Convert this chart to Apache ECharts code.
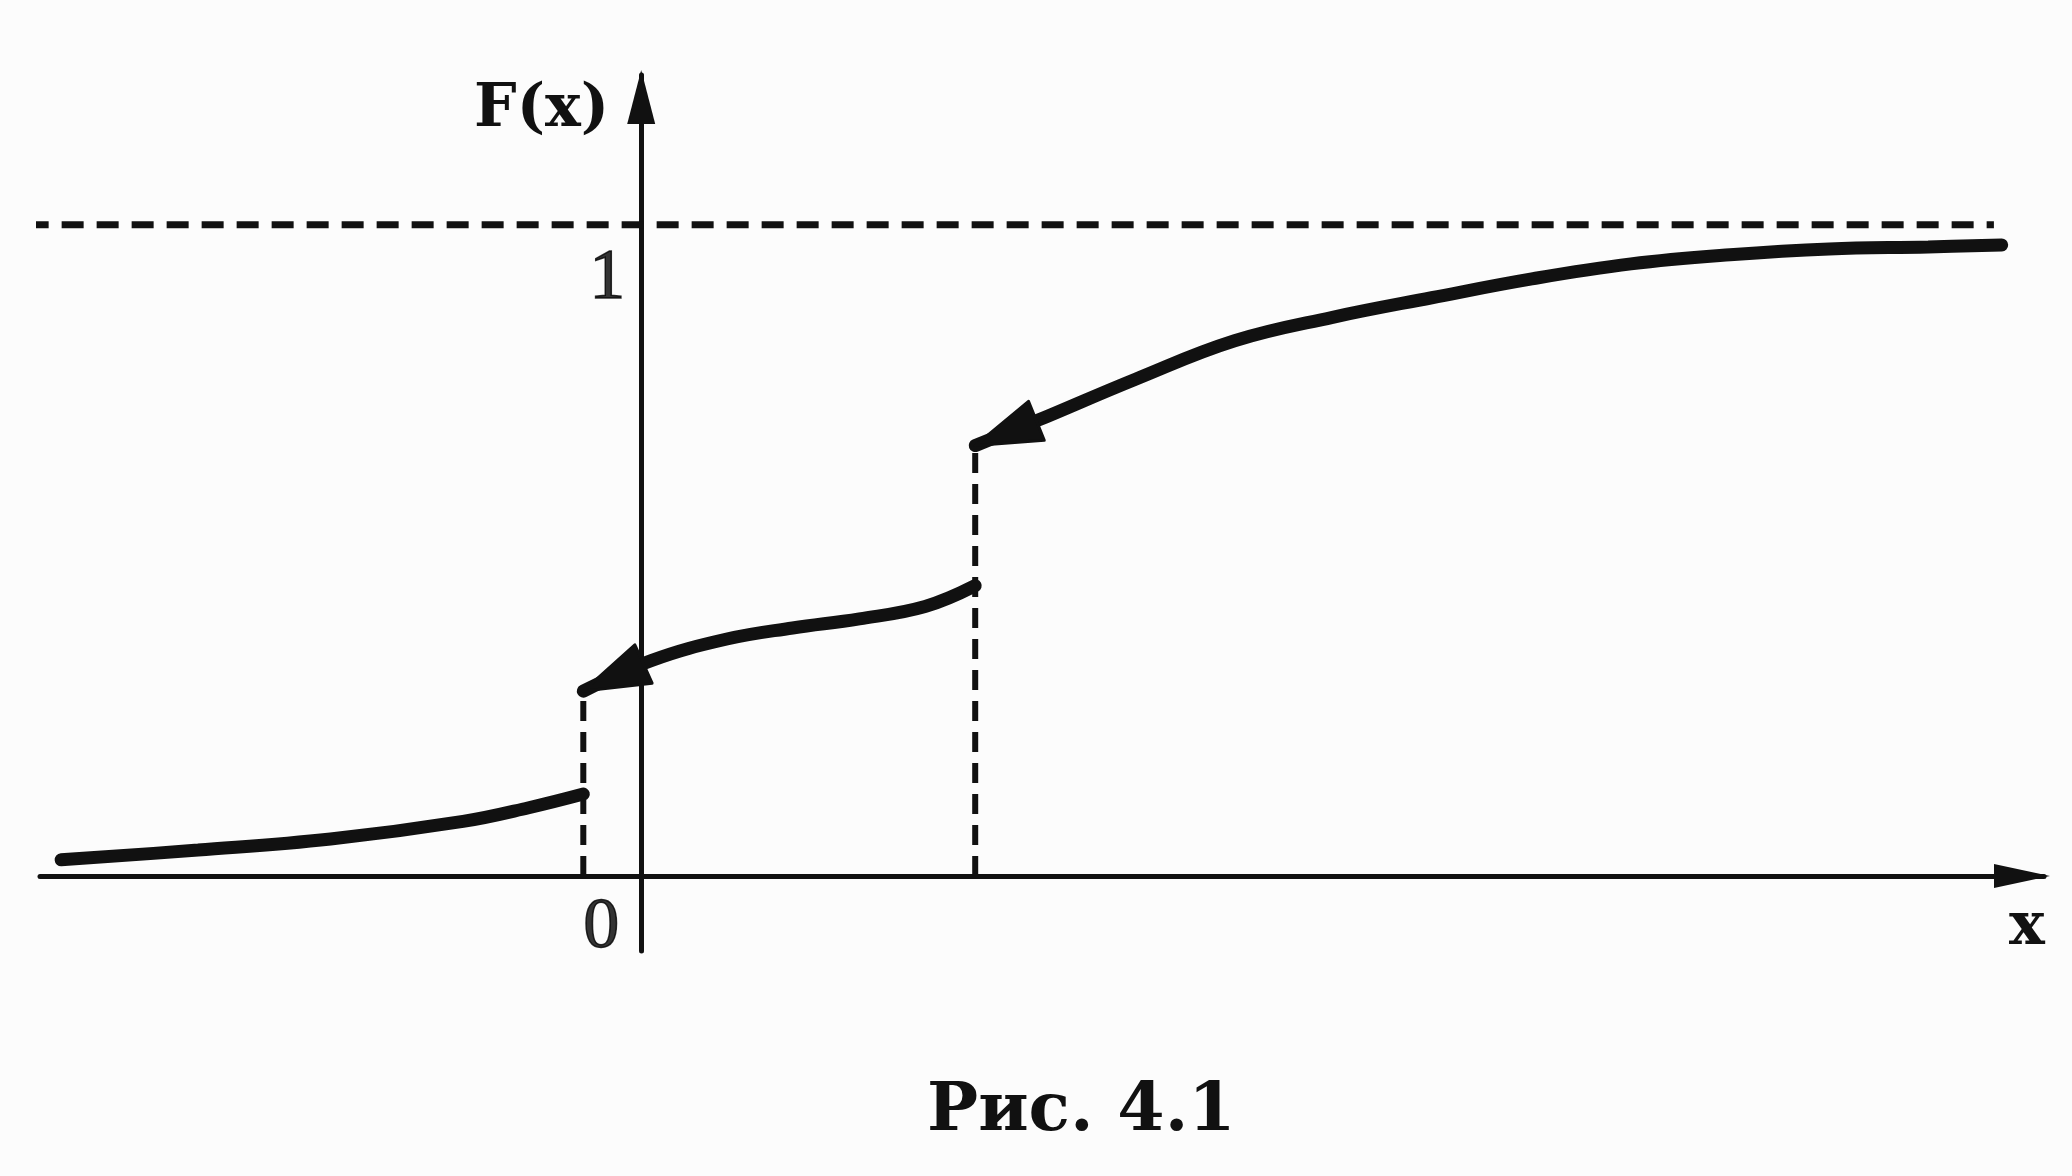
<!DOCTYPE html>
<html>
<head>
<meta charset="utf-8">
<script src="https://cdn.jsdelivr.net/npm/echarts@6/dist/echarts.min.js"></script>
<style>
  html, body { margin: 0; padding: 0; background: #fcfcfc; }
  #fig { width: 2072px; height: 1176px; }
</style>
</head>
<body>
<div id="fig"></div>
<script>
// точки разрыва функции распределения
var jumpX = [-0.52, 3.0];

// участок левее первого скачка
var seg1X = [-5.21, -3.98, -2.79, -1.60, -1.01, -0.52];
var seg1F = [0.025, 0.040, 0.057, 0.084, 0.105, 0.126];

// участок между скачками
var seg2X = [-0.52, 0.09, 0.77, 1.36, 1.96, 2.55, 3.0];
var seg2F = [0.284, 0.331, 0.364, 0.381, 0.395, 0.414, 0.446];

// участок правее второго скачка
var seg3X = [3.0, 3.55, 4.44, 5.33, 6.21, 7.10, 8.0, 8.89, 9.78, 10.67, 11.56, 12.22];
var seg3F = [0.661, 0.699, 0.763, 0.822, 0.858, 0.888, 0.917, 0.940, 0.954, 0.963, 0.966, 0.969];

// асимптота F = 1
var asymX = [-5.52, 12.15];
var asymF = [1, 1];

// подписи на осях
var xTicks = [0];
var yTicks = [1];

var ink = '#111111';

function pairs(xs, ys) {
    return xs.map(function (x, i) { return [x, ys[i]]; });
}

// стрелки в начале участков 2 и 3: остриё и направление по первым двум точкам
var arrows = [
    [seg2X[0], seg2F[0], seg2X[1], seg2F[1]],
    [seg3X[0], seg3F[0], seg3X[1], seg3F[1]]
];

function renderArrow(params, api) {
    var p0 = api.coord([api.value(0), api.value(1)]);
    var p1 = api.coord([api.value(2), api.value(3)]);
    var dx = p1[0] - p0[0], dy = p1[1] - p0[1];
    var len = Math.sqrt(dx * dx + dy * dy);
    var ux = dx / len, uy = dy / len;
    var nx = -uy, ny = ux;
    var L = 66, W = 42;
    var bx = p0[0] + ux * L, by = p0[1] + uy * L;
    return {
        type: 'polygon',
        z2: 20,
        shape: {
            points: [
                [p0[0], p0[1]],
                [bx + nx * W / 2, by + ny * W / 2],
                [bx - nx * W / 2, by - ny * W / 2]
            ]
        },
        style: { fill: ink, stroke: ink, lineWidth: 3, lineJoin: 'round', opacity: 1 }
    };
}

var tickFont = { fontFamily: 'Liberation Serif', fontSize: 72, color: '#000' };

var chart = echarts.init(document.getElementById('fig'));
chart.setOption({
    animation: false,
    backgroundColor: '#fcfcfc',
    title: {
        text: 'Рис. 4.1',
        left: 922,
        top: 1073,
        textStyle: {
            fontFamily: 'DejaVu Serif',
            fontWeight: 'bold',
            fontSize: 68,
            color: ink
        }
    },
    grid: { left: 40, right: 28, top: 75, bottom: 225, containLabel: false, outerBoundsMode: 'none' },
    xAxis: {
        type: 'value',
        min: -5.4,
        max: 12.6,
        name: 'x',
        nameLocation: 'end',
        nameGap: -17,
        nameTextStyle: {
            fontFamily: 'DejaVu Serif', fontWeight: 'bold', fontSize: 60, color: ink,
            align: 'center', verticalAlign: 'top', padding: [22, 0, 0, 0]
        },
        axisLine: {
            onZero: true,
            symbol: ['none', 'triangle'],
            symbolSize: [24, 56],
            symbolOffset: [0, -22],
            lineStyle: { color: ink, width: 5 }
        },
        axisTick: { show: false },
        splitLine: { show: false },
        axisLabel: { show: false }
    },
    yAxis: {
        type: 'value',
        min: -0.115,
        max: 1.23,
        name: 'F(x)',
        nameLocation: 'end',
        nameGap: -35,
        nameTextStyle: {
            fontFamily: 'DejaVu Serif', fontWeight: 'bold', fontSize: 60, color: ink,
            align: 'right', verticalAlign: 'middle', padding: [0, 32, 0, 0]
        },
        axisLine: {
            onZero: true,
            symbol: ['none', 'triangle'],
            symbolSize: [28, 54],
            symbolOffset: [0, -22],
            lineStyle: { color: ink, width: 5 }
        },
        axisTick: { show: false },
        splitLine: { show: false },
        axisLabel: { show: false }
    },
    series: [
        {
            type: 'line', data: pairs(asymX, asymF), symbol: 'none', clip: false,
            lineStyle: { color: ink, width: 7, type: [22, 13] }
        },
        {
            type: 'line', data: [[jumpX[0], 0], [jumpX[0], seg2F[0]]], symbol: 'none',
            lineStyle: { color: ink, width: 6, type: [20, 11] }
        },
        {
            type: 'line', data: [[jumpX[1], 0], [jumpX[1], seg3F[0]]], symbol: 'none',
            lineStyle: { color: ink, width: 6, type: [20, 11] }
        },
        {
            type: 'line', data: pairs(seg1X, seg1F), symbol: 'none', smooth: 0.4,
            lineStyle: { color: ink, width: 13, cap: 'round' }
        },
        {
            type: 'line', data: pairs(seg2X, seg2F), symbol: 'none', smooth: 0.4,
            lineStyle: { color: ink, width: 13, cap: 'round' }
        },
        {
            type: 'line', data: pairs(seg3X, seg3F), symbol: 'none', smooth: 0.4,
            lineStyle: { color: ink, width: 13, cap: 'round' }
        },
        {
            type: 'custom', silent: true, z: 5, data: arrows,
            encode: { x: [0, 2], y: [1, 3] },
            renderItem: renderArrow
        },
        // подписи делений: «0» под началом координат, «1» у оси ординат
        {
            type: 'scatter', symbolSize: 0, silent: true,
            data: xTicks.map(function (v) { return [v, 0]; }),
            label: {
                show: true, position: 'left', distance: 22, offset: [0, 52],
                formatter: function (p) { return String(p.value[0]); },
                fontFamily: tickFont.fontFamily, fontSize: tickFont.fontSize, color: tickFont.color,
                textBorderColor: tickFont.color, textBorderWidth: 1.5
            }
        },
        {
            type: 'scatter', symbolSize: 0, silent: true,
            data: yTicks.map(function (v) { return [0, v]; }),
            label: {
                show: true, position: 'left', distance: 16, offset: [0, 54],
                formatter: function (p) { return String(p.value[1]); },
                fontFamily: tickFont.fontFamily, fontSize: tickFont.fontSize, color: tickFont.color,
                textBorderColor: tickFont.color, textBorderWidth: 1.5
            }
        }
    ]
});
</script>
</body>
</html>
